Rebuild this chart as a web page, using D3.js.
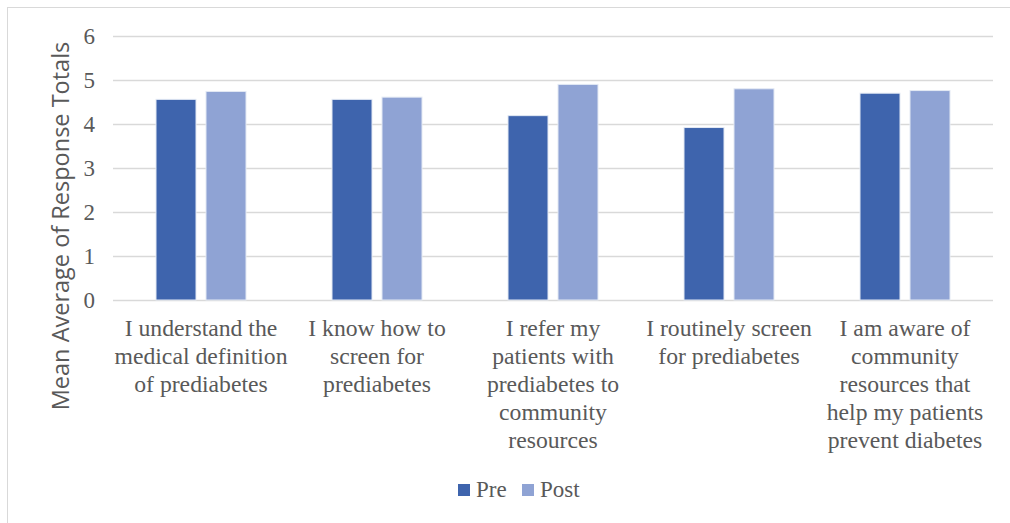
<!DOCTYPE html>
<html>
<head>
<meta charset="utf-8">
<script src="https://cdn.jsdelivr.net/npm/d3@7"></script>
<style>
  body { margin: 0; background: #fff; }
  svg { display: block; }
</style>
</head>
<body>
<div id="chart-area"></div>
<script>
// Chart data
const categories = [
    ["I understand the", "medical definition", "of prediabetes"],
    ["I know how to", "screen for", "prediabetes"],
    ["I refer my", "patients with", "prediabetes to", "community", "resources"],
    ["I routinely screen", "for prediabetes"],
    ["I am aware of", "community", "resources that", "help my patients", "prevent diabetes"]
];
const preValues = [4.56, 4.56, 4.19, 3.92, 4.70];
const postValues = [4.74, 4.61, 4.90, 4.80, 4.76];
const seriesNames = ["Pre", "Post"];
const seriesColors = ["#3E64AD", "#8FA3D4"];
const yTicks = [0, 1, 2, 3, 4, 5, 6];

const width = 1010;
const height = 523;
const margin = { left: 113, right: 17, top: 36, bottom: 223 };
const serif = "'Liberation Serif', 'Times New Roman', serif";

const svg = d3.select("#chart-area")
    .append("svg")
    .attr("width", width)
    .attr("height", height);

// chart frame
svg.append("rect")
    .attr("x", 7.5)
    .attr("y", 7.5)
    .attr("width", 1010)
    .attr("height", 530)
    .attr("fill", "none")
    .attr("stroke", "#D9D9D9");

const x = d3.scaleBand()
    .domain(d3.range(categories.length))
    .range([margin.left, width - margin.right]);

const y = d3.scaleLinear()
    .domain([0, 6])
    .range([height - margin.bottom, margin.top]);

// gridlines + y labels
const yAxis = d3.axisLeft(y)
    .tickValues(yTicks)
    .tickFormat(d3.format("d"))
    .tickSize(-(width - margin.left - margin.right))
    .tickPadding(18);

const gy = svg.append("g")
    .attr("transform", `translate(${margin.left},0)`)
    .call(yAxis);
gy.select(".domain").remove();
gy.selectAll(".tick line").attr("stroke", "#D9D9D9").attr("stroke-width", 1.5);
gy.selectAll(".tick text")
    .attr("fill", "#595959")
    .style("font-family", serif)
    .style("font-size", "23px");

// bars
const barW = 40;
const gap = 10;
const groups = categories.map((c, i) => ({ i, vals: [preValues[i], postValues[i]] }));

groups.forEach(g => {
    const cx = x(g.i) + x.bandwidth() / 2;
    svg.selectAll(".bar-" + g.i)
        .data(g.vals)
        .enter()
        .append("rect")
        .attr("x", (d, k) => cx - gap / 2 - barW + k * (barW + gap))
        .attr("y", d => y(d))
        .attr("width", barW)
        .attr("height", d => y(0) - y(d))
        .attr("fill", (d, k) => seriesColors[k])
        .attr("stroke", "#E3E9F4")
        .attr("stroke-width", 1);
});

// category labels
const labels = svg.selectAll(".cat-label")
    .data(categories)
    .enter()
    .append("text")
    .attr("class", "cat-label")
    .attr("text-anchor", "middle")
    .attr("fill", "#595959")
    .style("font-family", serif)
    .style("font-size", "23.7px");

labels.selectAll("tspan")
    .data((d, i) => d.map(line => ({ line, i })))
    .enter()
    .append("tspan")
    .attr("x", d => x(d.i) + x.bandwidth() / 2)
    .attr("y", (d, j) => 336 + j * 28)
    .text(d => d.line);

// y axis title
svg.append("text")
    .attr("transform", "translate(69,226) rotate(-90)")
    .attr("text-anchor", "middle")
    .attr("fill", "#595959")
    .style("font-family", "'Open Sans', 'Liberation Sans', sans-serif")
    .style("font-size", "23.5px")
    .text("Mean Average of Response Totals");

// legend
const legendX = [458, 522];
const legend = svg.selectAll(".legend")
    .data(seriesNames)
    .enter()
    .append("g")
    .attr("transform", (d, i) => `translate(${legendX[i]},484)`);

legend.append("rect")
    .attr("width", 12)
    .attr("height", 12)
    .attr("fill", (d, i) => seriesColors[i]);

legend.append("text")
    .attr("x", 18)
    .attr("y", 13)
    .attr("fill", "#595959")
    .style("font-family", serif)
    .style("font-size", "23px")
    .text(d => d);
</script>
</body>
</html>
